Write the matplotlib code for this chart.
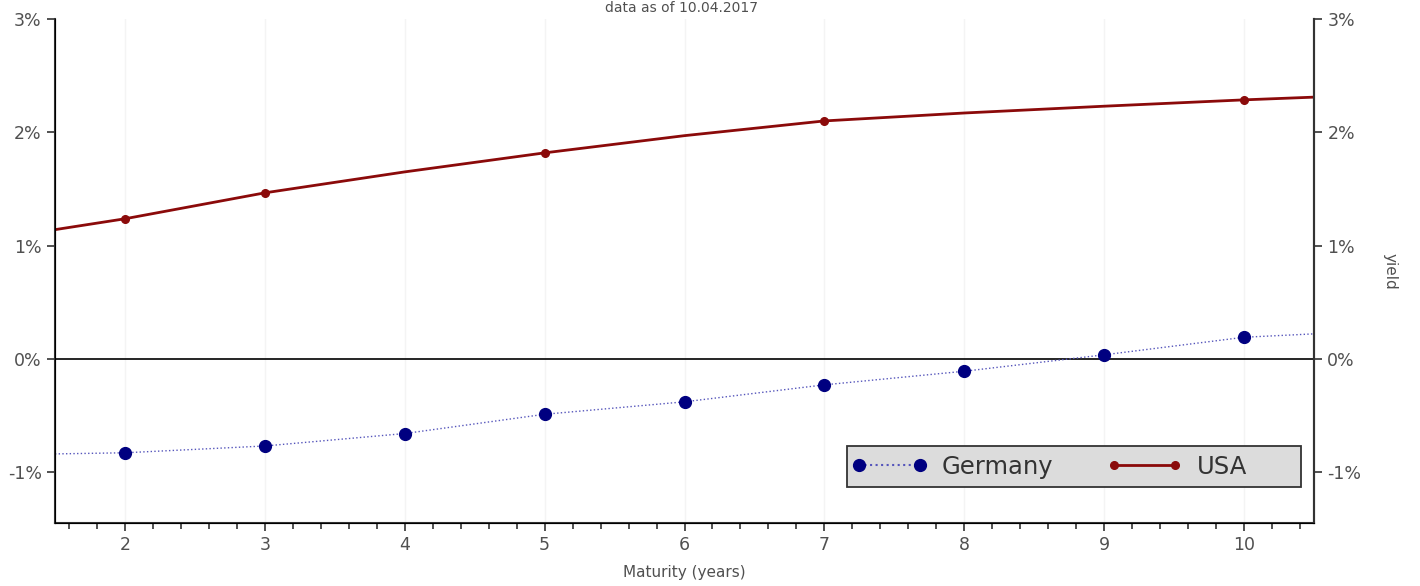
import numpy as np
import matplotlib.pyplot as plt
from matplotlib.lines import Line2D
from matplotlib.patches import Rectangle
from matplotlib.ticker import FuncFormatter, MultipleLocator

# yield curves (maturity in years, yield in %)
usa_curve_x = [1.5, 2, 3, 4, 5, 6, 7, 8, 9, 10, 10.5]
usa_curve_y = [1.14, 1.236, 1.465, 1.65, 1.818, 1.97, 2.10, 2.17, 2.23, 2.286, 2.31]
usa_pts_x = [2, 3, 5, 7, 10]
usa_pts_y = [1.236, 1.465, 1.818, 2.10, 2.286]

ger_curve_x = [1.5, 2, 3, 4, 5, 6, 7, 8, 9, 10, 10.5]
ger_curve_y = [-0.84, -0.83, -0.77, -0.66, -0.49, -0.38, -0.23, -0.11, 0.035, 0.19, 0.22]
ger_pts_x = [2, 3, 4, 5, 6, 7, 8, 9, 10]
ger_pts_y = [-0.83, -0.77, -0.66, -0.49, -0.38, -0.23, -0.11, 0.035, 0.19]

usa_col = '#8b0a0a'
ger_col = '#000080'
txt_col = '#505050'

fig = plt.figure(figsize=(14.2, 5.86), dpi=100)
ax = fig.add_axes([0.0387, 0.1075, 0.8867, 0.8601])

ax.grid(True, axis='x', color='#f4f4f4', linewidth=1)
ax.axhline(0, color='black', linewidth=1.2)

ax.plot(ger_curve_x, ger_curve_y, ':', color='#5555bb', linewidth=1)
ax.plot(ger_pts_x, ger_pts_y, 'o', color=ger_col, markersize=8.5)
ax.plot(usa_curve_x, usa_curve_y, '-', color=usa_col, linewidth=2)
ax.plot(usa_pts_x, usa_pts_y, 'o', color=usa_col, markersize=5.5)

ax.set_xlim(1.5, 10.5)
ax.set_ylim(-1.45, 3)
ax.set_xticks([2, 3, 4, 5, 6, 7, 8, 9, 10])
ax.xaxis.set_minor_locator(MultipleLocator(0.2))
ax.set_yticks([-1, 0, 1, 2, 3])
pct = FuncFormatter(lambda v, p: f'{v:.0f}%')
ax.yaxis.set_major_formatter(pct)

for s in ['left', 'bottom', 'right']:
    ax.spines[s].set_color('#333333')
    ax.spines[s].set_linewidth(1.5)
ax.spines['top'].set_visible(False)
ax.tick_params(axis='both', colors='#333333', labelcolor=txt_col, labelsize=12.5, width=1.2)
ax.tick_params(axis='x', which='major', length=6)
ax.tick_params(axis='x', which='minor', length=4, width=1.2, colors='#333333')
ax.tick_params(axis='y', length=6)

ax2 = ax.twinx()
ax2.set_ylim(ax.get_ylim())
ax2.set_yticks([-1, 0, 1, 2, 3])
ax2.yaxis.set_major_formatter(pct)
ax2.spines['top'].set_visible(False)
ax2.spines['right'].set_color('#333333')
ax2.spines['right'].set_linewidth(1.5)
ax2.tick_params(axis='y', colors='#333333', labelcolor=txt_col, labelsize=12.5, length=6, width=1.2)
ax2.set_ylabel('yield', rotation=270, color=txt_col, fontsize=11, labelpad=26)

ax.set_xlabel('Maturity (years)', color=txt_col, fontsize=11, labelpad=8)

# legend box drawn separately so it can be wider than its entries
ax2.add_patch(Rectangle((0.629, 0.0714), 0.361, 0.0815, transform=ax.transAxes,
                        facecolor='#dcdcdc', edgecolor='#333333', linewidth=1.3,
                        zorder=5))
handles = [
    Line2D([], [], linestyle=':', color='#5555bb', marker='o', markersize=8.5,
           markerfacecolor=ger_col, markeredgecolor=ger_col),
    Line2D([], [], linestyle='-', color=usa_col, linewidth=2, marker='o', markersize=5.5),
]
leg = ax2.legend(handles, ['Germany', 'USA'], ncol=2, loc='center left',
                 bbox_to_anchor=(0.629, 0.112), bbox_transform=ax.transAxes,
                 fontsize=17.5, frameon=False, handlelength=3.1,
                 numpoints=2, borderaxespad=0, borderpad=0.2, handletextpad=0.6,
                 columnspacing=2.2)
leg.set_zorder(6)
for t in leg.get_texts():
    t.set_color('#333333')

fig.text(0.48, 0.999, 'data as of 10.04.2017', ha='center', va='top',
         color=txt_col, fontsize=10)

fig.savefig('out.png', dpi=100)
